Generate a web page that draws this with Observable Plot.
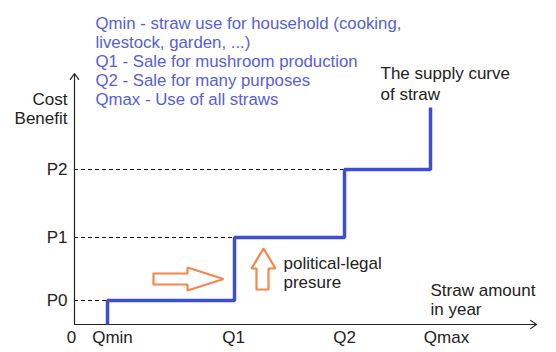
<!DOCTYPE html>
<html>
<head>
<meta charset="utf-8">
<script src="https://cdn.jsdelivr.net/npm/d3@7"></script>
<script src="https://cdn.jsdelivr.net/npm/@observablehq/plot@0.6"></script>
<style>
  html, body { margin: 0; padding: 0; background: #fff; }
  svg { display: block; }
</style>
</head>
<body>
<div id="chart"></div>
<script>
// Quantities on the straw-amount axis (arbitrary units)
const qLabels = ["Qmin", "Q1", "Q2", "Qmax"];
const qValues = [3.3, 16.0, 27.0, 35.6];
// Price levels on the cost/benefit axis (arbitrary units)
const pLabels = ["P0", "P1", "P2"];
const pValues = [2.4, 8.7, 15.5];
const curveTop = 21.7;   // top of last vertical segment of the supply curve
const xMax = 46.2;       // end of straw-amount axis
const yMax = 25.1;       // end of cost/benefit axis

const legendLines = [
  "Qmin - straw use for household (cooking,",
  "livestock, garden, ...)",
  "Q1 - Sale for mushroom production",
  "Q2 - Sale for many purposes",
  "Qmax - Use of all straws"
];

// Supply curve points (step-after)
const supply = [
  {x: qValues[0], y: 0},
  {x: qValues[0], y: pValues[0]},
  {x: qValues[1], y: pValues[1]},
  {x: qValues[2], y: pValues[2]},
  {x: qValues[3], y: curveTop}
];

// Hollow block arrows (outline polygons, data units)
const rightArrow = [[7.9,4.0],[7.9,5.1],[11.3,5.1],[11.3,5.7],[14.9,4.55],[11.3,3.4],[11.3,4.0],[7.9,4.0]]
  .map(([x, y]) => ({x, y, id: "right"}));
const upArrow = [[18.2,3.5],[19.4,3.5],[19.4,5.6],[20.1,5.6],[18.9,7.6],[17.7,5.6],[18.2,5.6],[18.2,3.5]]
  .map(([x, y]) => ({x, y, id: "up"}));

// small label nudges (px) so tick labels sit like in the original
const qLabelNudge = [5, -1, 0, 16];
const qTicks = qLabels.map((label, i) => ({label, x: qValues[i], nudge: qLabelNudge[i]}));
const pTicks = pLabels.map((label, i) => ({label, y: pValues[i], x2: qValues[i]}));

const FONT = "'Liberation Sans', Arial, sans-serif";
const BLUE = "#3d4fd0";
const TEXTBLUE = "#5560d6";
const ORANGE = "#f5874c";

const chart = Plot.plot({
  width: 556,
  height: 352,
  marginLeft: 74,
  marginRight: 20,
  marginTop: 73,
  marginBottom: 28,
  x: {domain: [0, xMax], axis: null},
  y: {domain: [0, yMax], axis: null},
  style: {fontFamily: FONT, background: "#fff", overflow: "visible"},
  marks: [
    // dashed guide lines
    Plot.ruleY(pTicks, {y: "y", x1: 0, x2: "x2", stroke: "#111", strokeWidth: 1, strokeDasharray: "4,3"}),
    // axes with arrowheads
    Plot.arrow([{x1: 0, y1: 0, x2: xMax, y2: 0}], {x1: "x1", y1: "y1", x2: "x2", y2: "y2", stroke: "#222", strokeWidth: 1.2, headLength: 9, headAngle: 70}),
    Plot.arrow([{x1: 0, y1: 0, x2: 0, y2: yMax}], {x1: "x1", y1: "y1", x2: "x2", y2: "y2", stroke: "#222", strokeWidth: 1.2, headLength: 9, headAngle: 70}),
    // supply curve
    Plot.line(supply, {x: "x", y: "y", curve: "step-after", stroke: BLUE, strokeWidth: 3.5, strokeLinejoin: "miter", strokeLinecap: "butt"}),
    // orange hollow arrows
    Plot.line(rightArrow.concat(upArrow), {x: "x", y: "y", z: "id", stroke: ORANGE, strokeWidth: 2.2, strokeLinejoin: "miter"}),
    // tick labels
    Plot.text(qTicks, {x: d => d.x + d.nudge / 10, y: 0, text: "label", dy: 13, fontSize: 17, fill: "#222", textAnchor: "middle"}),
    Plot.text(["0"], {x: 0, y: 0, text: d => d, dx: -3, dy: 13, fontSize: 17, fill: "#222"}),
    Plot.text(pTicks, {x: 0, y: "y", text: "label", dx: -7, fontSize: 17, fill: "#222", textAnchor: "end"}),
    // axis titles
    Plot.text(["Cost\nBenefit"], {x: 0, y: 21.6, text: d => d, dx: -7, fontSize: 17, fill: "#222", textAnchor: "end", lineHeight: 1.13}),
    Plot.text(["Straw amount\nin year"], {x: 35.6, y: 2.55, text: d => d, fontSize: 17, fill: "#222", textAnchor: "start", lineHeight: 1.13}),
    // annotations
    Plot.text(["The supply curve\nof straw"], {x: 30.6, y: 24.15, text: d => d, fontSize: 17, fill: "#222", textAnchor: "start", lineHeight: 1.22}),
    Plot.text(["political-legal\npresure"], {x: 20.9, y: 5.25, text: d => d, fontSize: 17, fill: "#222", textAnchor: "start", lineHeight: 1.13}),
    // legend (blue description text)
    Plot.text([legendLines.join("\n")], {x: 2.1, y: 26.35, text: d => d, fontSize: 16.8, fill: TEXTBLUE, textAnchor: "start", lineHeight: 1.14})
  ]
});
document.getElementById("chart").appendChild(chart);
</script>
</body>
</html>
